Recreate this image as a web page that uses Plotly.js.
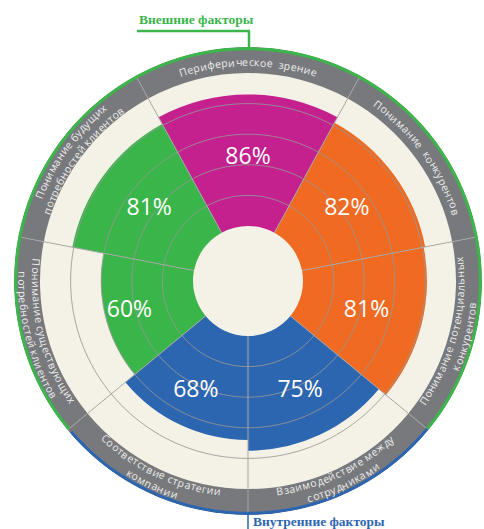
<!DOCTYPE html>
<html><head><meta charset="utf-8">
<script src="https://cdn.plot.ly/plotly-3.0.1.min.js"></script>
<style>html,body{margin:0;padding:0;background:#fff}#chart{width:484px;height:529px}</style>
</head><body><div id="chart"></div>
<script>
// ---- data ----
const categories = ["Периферическое зрение","Понимание конкурентов","Понимание потенциальных конкурентов","Взаимодействие между сотрудниками","Соответствие стратегии компании","Понимание существующих потребностей клиентов","Понимание будущих потребностей клиентов"];
const values = [86, 82, 81, 75, 68, 60, 81];
const labelLines = [["Периферическое  зрение"],["Понимание  конкурентов"],["Понимание потенциальных","конкурентов"],["Взаимодействие между","сотрудниками"],["Соответствие стратегии","компании"],["Понимание существующих","потребностей клиентов"],["Понимание будущих","потребностей клиентов"]];
const groupTitles = ["Внешние факторы","Внутренние факторы"];
const gridLevels = [20, 40, 60, 80];

// ---- layout / style ----
const W=484,H=529,CX=248,CY=281,RPX=234,HOLEPX=55,RMAX=117,RING0=100;
const k=(RPX-HOLEPX)/RMAX, R0=-HOLEPX/k;
const colors=["#c4208e","#f06a22","#f06a22","#2d66b0","#2d66b0","#3ab54a","#3ab54a"];
const CREAM="#f4f2e6", GRAY="#78797c", GREEN="#3cb54b", BLUE="#2d66b0";
const topWidth=57.3, otherWidth=(360-topWidth)/6;
const widths=categories.map((c,i)=>i===0?topWidth:otherWidth);
const centers=[]; let acc=-topWidth/2;
widths.forEach(w=>{centers.push(acc+w/2);acc+=w;});
const bounds=[]; acc=-topWidth/2; widths.forEach(w=>{bounds.push(acc);acc+=w;});

const traces=[];
traces.push({type:'barpolar',r:values,theta:centers,width:widths,base:0,marker:{color:colors,line:{width:0}},hoverinfo:'skip'});
traces.push({type:'barpolar',r:categories.map(()=>RMAX-RING0),theta:centers,width:widths,base:RING0,marker:{color:GRAY,line:{width:0}},hoverinfo:'skip'});
// grid circles
gridLevels.forEach(g=>{const th=[],rr=[];for(let a=0;a<=360;a+=2){th.push(a);rr.push(g);}
 traces.push({type:'scatterpolar',mode:'lines',r:rr,theta:th,line:{color:'rgba(150,150,150,0.85)',width:1},hoverinfo:'skip'});});
// spokes
{const th=[],rr=[];bounds.forEach(b=>{th.push(b,b,null);rr.push(0,RMAX,null);});
 traces.push({type:'scatterpolar',mode:'lines',r:rr,theta:th,line:{color:'#a6a6a6',width:1},hoverinfo:'skip'});}
// outer outline arcs (inside the clip)
const RO=RMAX-1.6/k;
const bBlue0=bounds[3], bBlue1=bounds[5];
{const th=[],rr=[];for(let a=bBlue0;a<=bBlue1+0.01;a+=1){th.push(a);rr.push(RO);}
 traces.push({type:'scatterpolar',mode:'lines',r:rr,theta:th,line:{color:BLUE,width:3.2},hoverinfo:'skip'});}
{const th=[],rr=[];for(let a=bBlue1;a<=bBlue0+360+0.01;a+=1){th.push(a);rr.push(RO);}
 traces.push({type:'scatterpolar',mode:'lines',r:rr,theta:th,line:{color:GREEN,width:3.2},hoverinfo:'skip'});}
// percent labels
traces.push({type:'scatterpolar',mode:'text',r:categories.map(()=>44),theta:centers,text:values.map(v=>v+'%'),
 textfont:{family:'Open Sans',size:23,color:'#ffffff'},hoverinfo:'skip',cliponaxis:false});

// curved ring labels
const cv=document.createElement('canvas').getContext('2d');
const FS=10.5; cv.font=FS+"px 'Open Sans'";
const annotations=[];
function pos(rp,phi){const t=(90-phi)*Math.PI/180;return [CX+rp*Math.cos(t),CY-rp*Math.sin(t)];}
function arcText(txt,rp,phiC,outward){
  const ws=[...txt].map(ch=>cv.measureText(ch).width*1.08);
  const L=ws.reduce((a,b)=>a+b,0); let s=-L/2;
  [...txt].forEach((ch,i)=>{const sc=s+ws[i]/2; s+=ws[i]; if(ch===' ')return;
    const dphi=sc/rp*180/Math.PI;
    const phi=outward?phiC+dphi:phiC-dphi;
    const p=pos(rp,phi);
    annotations.push({x:p[0]/W,y:1-p[1]/H,xref:'paper',yref:'paper',text:ch,showarrow:false,xanchor:'center',yanchor:'middle',
      textangle:outward?phi:phi-180,font:{family:'Open Sans',size:FS,color:'#ececec'}});
  });
}
labelLines.forEach((lines,i)=>{
  let phiC=centers[i]; let n=((phiC%360)+360)%360;
  const outward=(n<90||n>270);
  if(lines.length===1){arcText(lines[0],219,phiC,outward);}
  else{ if(outward){arcText(lines[0],225.5,phiC,true);arcText(lines[1],212.5,phiC,true);}
        else{arcText(lines[0],212.5,phiC,false);arcText(lines[1],225.5,phiC,false);} }
});
// group titles
annotations.push({x:137/W,y:1-19/H,xref:'paper',yref:'paper',text:groupTitles[0],showarrow:false,xanchor:'left',yanchor:'middle',
  font:{family:'Liberation Serif',size:13.5,color:GREEN,weight:'bold'}});
annotations.push({x:251/W,y:1-521/H,xref:'paper',yref:'paper',text:groupTitles[1],showarrow:false,xanchor:'left',yanchor:'middle',
  font:{family:'Liberation Serif',size:13.5,color:BLUE,weight:'bold'}});
const shapes=[
 {type:'line',xref:'paper',yref:'paper',x0:249/W,x1:249/W,y0:1-(CY-RPX+1)/H,y1:1-31/H,line:{color:GREEN,width:2.5}},
 {type:'line',xref:'paper',yref:'paper',x0:137/W,x1:250/W,y0:1-31/H,y1:1-31/H,line:{color:GREEN,width:2.5}},
 {type:'line',xref:'paper',yref:'paper',x0:248/W,x1:248/W,y0:1-(CY+RPX-1)/H,y1:0,line:{color:BLUE,width:1.5}}
];

const layout={width:W,height:H,margin:{l:0,r:0,t:0,b:0},paper_bgcolor:'#fff',showlegend:false,
 polar:{domain:{x:[(CX-RPX)/W,(CX+RPX)/W],y:[1-(CY+RPX)/H,1-(CY-RPX)/H]},bgcolor:CREAM,hole:0,
  radialaxis:{range:[R0,RMAX],visible:false,showgrid:false},
  angularaxis:{direction:'clockwise',rotation:90,visible:false,showgrid:false}},
 annotations:annotations,shapes:shapes};
Plotly.newPlot('chart',traces,layout,{displayModeBar:false,staticPlot:true});
</script></body></html>
